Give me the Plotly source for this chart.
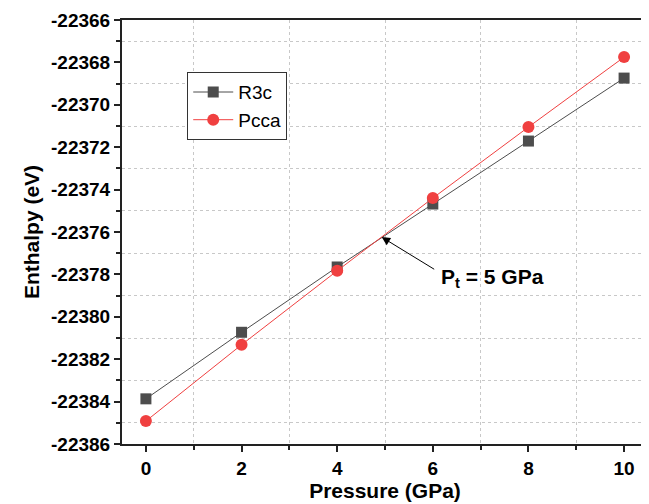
import plotly.graph_objects as go

pressure = [0, 2, 4, 6, 8, 10]
r3c = [-22383.87, -22380.73, -22377.65, -22374.68, -22371.71, -22368.74]
pcca = [-22384.92, -22381.32, -22377.83, -22374.40, -22371.05, -22367.75]

y_ticks = list(range(-22386, -22365, 2))

fig = go.Figure()
fig.add_trace(go.Scatter(x=pressure, y=r3c, mode="lines+markers", name="R3c",
                         line=dict(color="#4d4d4d", width=1),
                         marker=dict(symbol="square", size=11, color="#4d4d4d")))
fig.add_trace(go.Scatter(x=pressure, y=pcca, mode="lines+markers", name="Pcca",
                         line=dict(color="#f04040", width=1),
                         marker=dict(symbol="circle", size=12, color="#f04040")))

font_family = "Liberation Sans, Arial, sans-serif"
axis_common = dict(showline=True, linecolor="#222", linewidth=2, mirror=True,
                   ticks="outside", ticklen=6, tickwidth=1.5, tickcolor="#222",
                   showgrid=False, zeroline=False, automargin=False,
                   tickfont=dict(family=font_family, size=19, color="black", weight=700))

fig.update_xaxes(range=[-0.5, 10.5], tickvals=pressure, ticktext=[f"<b>{p}</b>" for p in pressure],
                 title=dict(text="<b>Pressure (GPa)</b>", font=dict(family=font_family, size=21, color="black", weight=700), standoff=2),
                 minor=dict(tickvals=[1, 3, 5, 7, 9], ticks="outside", ticklen=4, tickcolor="#222",
                            showgrid=True, gridcolor="#c8c8c8", griddash="dot", gridwidth=1),
                 **axis_common)
fig.update_yaxes(range=[-22386, -22366], tickvals=y_ticks, ticktext=[f"<b>{t}</b>" for t in y_ticks],
                 title=dict(text="<b>Enthalpy (eV)</b>", font=dict(family=font_family, size=21, color="black", weight=700), standoff=6),
                 minor=dict(tickvals=list(range(-22385, -22366, 2)), ticks="outside", ticklen=4, tickcolor="#222",
                            showgrid=True, gridcolor="#c8c8c8", griddash="dot", gridwidth=1),
                 **axis_common)

fig.add_annotation(x=4.93, y=-22376.24, ax=6.06, ay=-22377.8, axref="x", ayref="y",
                   text="", showarrow=True, arrowhead=2, arrowsize=1.7, arrowwidth=1, arrowcolor="black")
fig.add_annotation(x=7.25, y=-22378.15, text="<b>P<sub>t</sub> = 5 GPa</b>", showarrow=False,
                   font=dict(family=font_family, size=21, color="black", weight=700))

fig.update_layout(width=649, height=504, margin=dict(l=114, r=9, t=12, b=68, autoexpand=False),
                  plot_bgcolor="white", paper_bgcolor="white",
                  legend=dict(x=0.124, y=0.877, xanchor="left", yanchor="top",
                              bordercolor="#333", borderwidth=1, bgcolor="white",
                              font=dict(family=font_family, size=19, color="black"),
                              tracegroupgap=0, itemwidth=40),
                  showlegend=True)

fig.write_html("out.html")
